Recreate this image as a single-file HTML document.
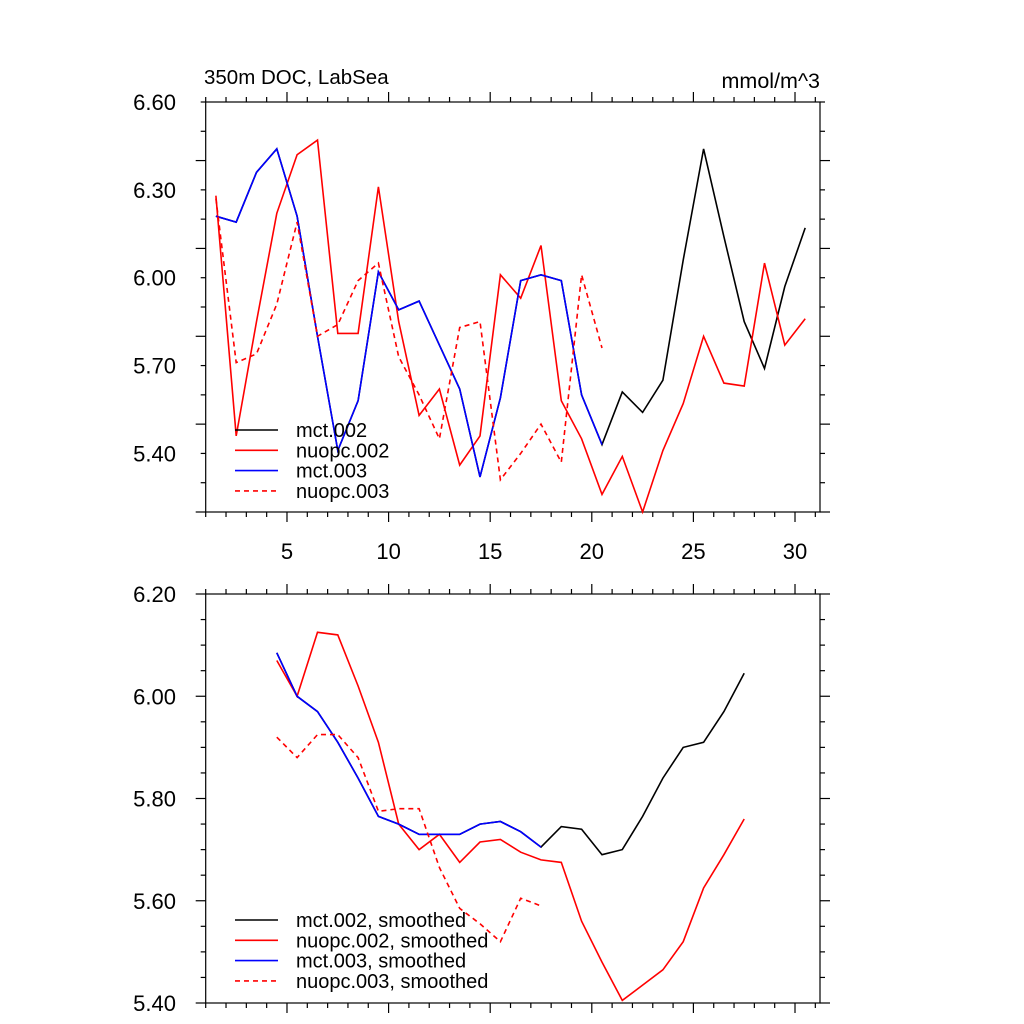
<!DOCTYPE html>
<html><head><meta charset="utf-8"><style>
body{margin:0;background:#fff}
svg{display:block;font-family:"Liberation Sans",sans-serif}
</style></head><body>
<svg id="chart" width="1024" height="1024" viewBox="0 0 1024 1024"></svg>
<script>
const years=[];for(let i=1;i<=30;i++)years.push(i+0.5);
const xTicks=[5,10,15,20,25,30];
const topYTicks=["6.60","6.30","6.00","5.70","5.40"];
const botYTicks=["6.20","6.00","5.80","5.60","5.40"];
const mct002=[6.21,6.19,6.36,6.44,6.21,5.80,5.41,5.58,6.02,5.89,5.92,5.77,5.62,5.32,5.59,5.99,6.01,5.99,5.60,5.43,5.61,5.54,5.65,6.06,6.44,6.14,5.85,5.69,5.97,6.17];
const nuopc002=[6.28,5.46,5.85,6.22,6.42,6.47,5.81,5.81,6.31,5.85,5.53,5.62,5.36,5.46,6.01,5.93,6.11,5.58,5.45,5.26,5.39,5.20,5.41,5.57,5.80,5.64,5.63,6.05,5.77,5.86];
const mct003=[6.21,6.19,6.36,6.44,6.21,5.80,5.41,5.58,6.02,5.89,5.92,5.77,5.62,5.32,5.59,5.99,6.01,5.99,5.60,5.43];
const nuopc003=[6.27,5.71,5.74,5.91,6.19,5.80,5.84,5.99,6.05,5.73,5.60,5.45,5.83,5.85,5.31,5.40,5.50,5.37,6.01,5.76];
const smYears=[];for(let i=4;i<=27;i++)smYears.push(i+0.5);
const smMct002=[6.085,6.00,5.97,5.91,5.84,5.765,5.75,5.73,5.73,5.73,5.75,5.755,5.735,5.705,5.745,5.74,5.69,5.70,5.765,5.84,5.90,5.91,5.97,6.045];
const smNuopc002=[6.07,6.00,6.125,6.12,6.02,5.91,5.75,5.70,5.73,5.675,5.715,5.72,5.695,5.68,5.675,5.56,5.48,5.405,5.435,5.465,5.52,5.625,5.69,5.76];
const smMct003=[6.085,6.00,5.97,5.91,5.84,5.765,5.75,5.73,5.73,5.73,5.75,5.755,5.735,5.705];
const smNuopc003=[5.92,5.88,5.925,5.925,5.88,5.775,5.78,5.78,5.665,5.585,5.555,5.52,5.605,5.59];

const svg=document.getElementById('chart');
const NS='http://www.w3.org/2000/svg';
function mk(t,a,p){const e=document.createElementNS(NS,t);for(const k in a)e.setAttribute(k,a[k]);(p||svg).appendChild(e);return e;}
const L=205.7,R=820,xmin=1,xmax=31.23;
const xs=v=>L+(v-xmin)/(xmax-xmin)*(R-L);

function panel(name,T,B,ymin,ymax,yMajor,yMinor,ylabels,series,legend,legY){
  const g=mk('g',{});
  
  
  const ys=v=>B-(v-ymin)/(ymax-ymin)*(B-T);
  const ax=mk('g',{stroke:'#000','stroke-width':1.2},g);
  
  
  mk('rect',{x:L,y:T,width:R-L,height:B-T,fill:'none'},ax);
  for(let v=1;v<=31;v++){const x=xs(v),len=(v%5==0)?10:5;
    mk('line',{x1:x,x2:x,y1:B,y2:B+len},ax);mk('line',{x1:x,x2:x,y1:T,y2:T-len},ax);}
  const n=Math.round((ymax-ymin)/yMinor);
  for(let i=0;i<=n;i++){const v=ymin+i*yMinor,y=ys(v);
    const maj=Math.abs(Math.round((v-ymin)/yMajor)*yMajor-(v-ymin))<1e-6;
    const len=maj?10:5;
    mk('line',{x1:L,x2:L-len,y1:y,y2:y},ax);mk('line',{x1:R,x2:R+len,y1:y,y2:y},ax);}
  ylabels.forEach(s=>{const t=mk('text',{x:176,y:ys(parseFloat(s))+8,'text-anchor':'end','font-size':22},g);t.textContent=s;
    
    });
  series.forEach(s=>{
    const pts=s.y.map((v,i)=>xs(s.x[i]).toFixed(1)+','+ys(v).toFixed(1)).join(' ');
    const p=mk('polyline',{points:pts,fill:'none',stroke:s.c,'stroke-width':1.6,'stroke-dasharray':s.d?'5,4':'none'},g);
    
    
  });
  series.forEach((s,i)=>{
    const y=legY+i*20.3;
    const le=mk('g',{},g);
    
    
    mk('line',{x1:235,x2:278,y1:y,y2:y,stroke:s.c,'stroke-width':1.6,'stroke-dasharray':s.d?'5,4':'none'},le);
    const t=mk('text',{x:296,y:y+7,'font-size':20},le);t.textContent=legend[i];
  });
  return ys;
}
panel('top-panel',102,512,5.2,6.6,0.3,0.1,topYTicks,[
 {n:'mct002-line',x:years,y:mct002,c:'#000'},
 {n:'nuopc002-line',x:years,y:nuopc002,c:'#f00'},
 {n:'mct003-line',x:years.slice(0,20),y:mct003,c:'#00f'},
 {n:'nuopc003-line',x:years.slice(0,20),y:nuopc003,c:'#f00',d:1}],
 ['mct.002','nuopc.002','mct.003','nuopc.003'],430);
panel('bottom-panel',594,1003,5.4,6.2,0.2,0.05,botYTicks,[
 {n:'mct002-smoothed-line',x:smYears,y:smMct002,c:'#000'},
 {n:'nuopc002-smoothed-line',x:smYears,y:smNuopc002,c:'#f00'},
 {n:'mct003-smoothed-line',x:smYears.slice(0,14),y:smMct003,c:'#00f'},
 {n:'nuopc003-smoothed-line',x:smYears.slice(0,14),y:smNuopc003,c:'#f00',d:1}],
 ['mct.002, smoothed','nuopc.002, smoothed','mct.003, smoothed','nuopc.003, smoothed'],920);
xTicks.forEach(v=>{const t=mk('text',{x:xs(v),y:559,'text-anchor':'middle','font-size':22});t.textContent=v;
  
  });
const t1=mk('text',{x:204,y:84,'font-size':20.5});t1.textContent='350m DOC, LabSea';


const t2=mk('text',{x:820,y:88,'font-size':21.5,'text-anchor':'end'});t2.textContent='mmol/m^3';


</script>
</body></html>
